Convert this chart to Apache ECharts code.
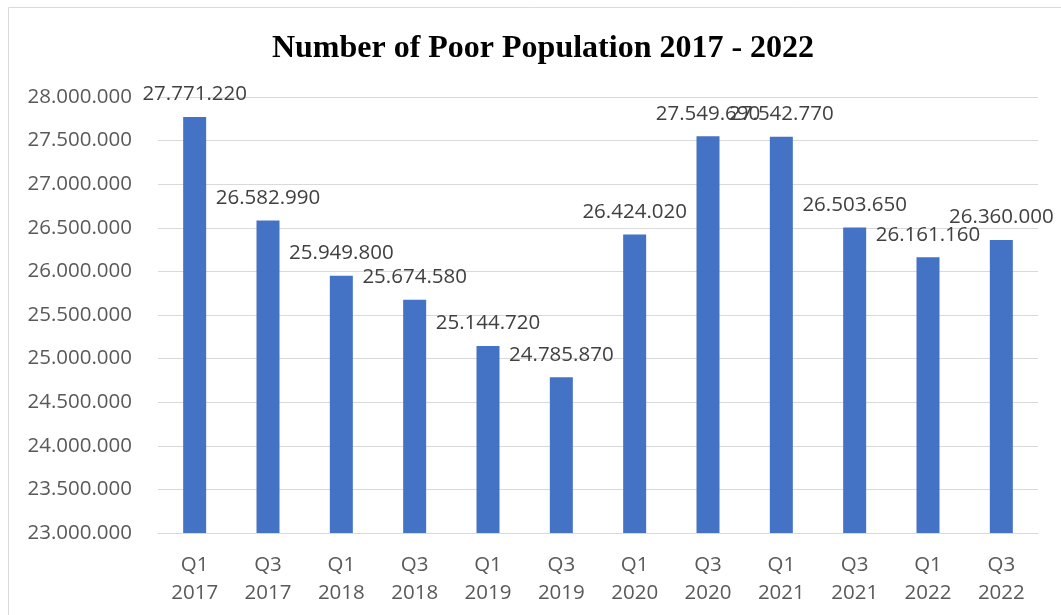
<!DOCTYPE html>
<html>
<head>
<meta charset="utf-8">
<script src="https://cdn.jsdelivr.net/npm/echarts@6/dist/echarts.min.js"></script>
<style>
  html, body { margin: 0; padding: 0; background: #fff; }
  #chart { width: 1061px; height: 615px; }
</style>
</head>
<body>
<div id="chart"></div>
<script>
// Semester periods (March = Q1, September = Q3)
const quarters = ['Q1', 'Q3', 'Q1', 'Q3', 'Q1', 'Q3', 'Q1', 'Q3', 'Q1', 'Q3', 'Q1', 'Q3'];
const years = ['2017', '2017', '2018', '2018', '2019', '2019', '2020', '2020', '2021', '2021', '2022', '2022'];
// Number of poor people
const poorPopulation = [27771220, 26582990, 25949800, 25674580, 25144720, 24785870,
                        26424020, 27549690, 27542770, 26503650, 26161160, 26360000];
const yMin = 23000000;
const yMax = 28000000;
const yStep = 500000;

const categories = quarters.map((q, i) => q + '\n' + years[i]);

// Thousands separated with dots
function dotted(v) {
  return String(Math.round(v)).replace(/\B(?=(\d{3})+(?!\d))/g, '.');
}

const chart = echarts.init(document.getElementById('chart'));
chart.setOption({
  animation: false,
  backgroundColor: '#ffffff',
  title: {
    text: 'Number of Poor Population 2017 - 2022',
    left: 538,
    textAlign: 'center',
    top: 28,
    textStyle: {
      fontFamily: '"Liberation Serif", "Times New Roman", serif',
      fontWeight: 'bold',
      fontSize: 32,
      color: '#000'
    }
  },
  graphic: [{
    type: 'rect',
    shape: { x: 8.5, y: 7.5, width: 1080, height: 640 },
    style: { fill: 'none', stroke: '#d9d9d9', lineWidth: 1 },
    silent: true
  }],
  grid: { left: 158, right: 23, top: 97, bottom: 82 },
  xAxis: {
    type: 'category',
    data: categories,
    axisTick: { show: false },
    axisLine: { lineStyle: { color: '#d9d9d9', width: 1 } },
    axisLabel: {
      color: '#595959',
      fontFamily: '"Open Sans", sans-serif',
      fontSize: 20.5,
      lineHeight: 28,
      margin: 18
    }
  },
  yAxis: {
    type: 'value',
    min: yMin,
    max: yMax,
    interval: yStep,
    axisLine: { show: false },
    axisTick: { show: false },
    splitLine: { lineStyle: { color: '#d9d9d9', width: 1 } },
    axisLabel: {
      color: '#595959',
      fontFamily: '"Open Sans", sans-serif',
      fontSize: 20.5,
      margin: 26,
      formatter: dotted
    }
  },
  series: [{
    type: 'bar',
    data: poorPopulation,
    barWidth: 23,
    itemStyle: { color: '#4472c4' },
    label: {
      show: true,
      position: 'top',
      distance: 12,
      color: '#404040',
      fontFamily: '"Open Sans", sans-serif',
      fontSize: 20.5,
      formatter: p => dotted(p.value)
    }
  }]
});
</script>
</body>
</html>
